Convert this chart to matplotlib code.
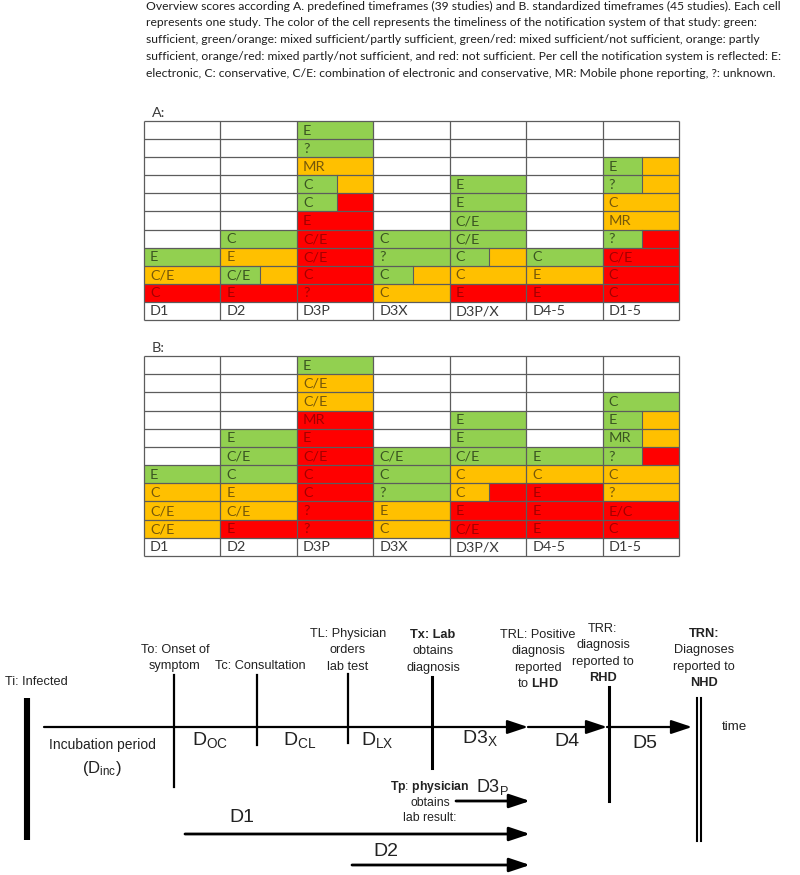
import matplotlib
matplotlib.use('Agg')
import matplotlib.pyplot as plt
from matplotlib.patches import Rectangle

# -----------------------------------------------------
# data
# -----------------------------------------------------

columns = ['D1', 'D2', 'D3P', 'D3X', 'D3P/X', 'D4-5', 'D1-5']

# cells per column, from the bottom row upwards
a_text = [
    ['C', 'C/E', 'E'],
    ['E', 'C/E', 'E', 'C'],
    ['?', 'C', 'C/E', 'C/E', 'E', 'C', 'C', 'MR', '?', 'E'],
    ['C', 'C', '?', 'C'],
    ['E', 'C', 'C', 'C/E', 'C/E', 'E', 'E'],
    ['E', 'E', 'C'],
    ['C', 'C', 'C/E', '?', 'MR', 'C', '?', 'E'],
]
a_score = [
    ['r', 'o', 'g'],
    ['r', 'go', 'o', 'g'],
    ['r', 'r', 'r', 'r', 'r', 'gr', 'go', 'o', 'g', 'g'],
    ['o', 'go', 'g', 'g'],
    ['r', 'o', 'go', 'g', 'g', 'g', 'g'],
    ['r', 'o', 'g'],
    ['r', 'r', 'r', 'gr', 'o', 'o', 'go', 'go'],
]

b_text = [
    ['C/E', 'C/E', 'C', 'E'],
    ['E', 'C/E', 'E', 'C', 'C/E', 'E'],
    ['?', '?', 'C', 'C', 'C/E', 'E', 'MR', 'C/E', 'C/E', 'E'],
    ['C', 'E', '?', 'C', 'C/E'],
    ['C/E', 'E', 'C', 'C', 'C/E', 'E', 'E'],
    ['E', 'E', 'E', 'C', 'E'],
    ['C', 'E/C', '?', 'C', '?', 'MR', 'E', 'C'],
]
b_score = [
    ['o', 'o', 'o', 'g'],
    ['r', 'o', 'o', 'g', 'g', 'g'],
    ['r', 'r', 'r', 'r', 'r', 'r', 'r', 'o', 'o', 'g'],
    ['o', 'o', 'g', 'g', 'g'],
    ['r', 'r', 'or', 'o', 'g', 'g', 'g'],
    ['r', 'r', 'r', 'o', 'g'],
    ['r', 'r', 'o', 'o', 'gr', 'go', 'go', 'g'],
]

caption = [
    'Overview scores according A. predefined timeframes (39 studies) and B. standardized timeframes (45 studies). Each cell',
    'represents one study. The color of the cell represents the timeliness of the notification system of that study: green:',
    'sufficient, green/orange: mixed sufficient/partly sufficient, green/red: mixed sufficient/not sufficient, orange: partly',
    'sufficient, orange/red: mixed partly/not sufficient, and red: not sufficient. Per cell the notification system is reflected: E:',
    'electronic, C: conservative, C/E: combination of electronic and conservative, MR: Mobile phone reporting, ?: unknown.',
]

# -----------------------------------------------------
# styles
# -----------------------------------------------------

fill = {'g': '#92d050', 'o': '#ffc000', 'r': '#ff0000'}
ink = {'g': '#3b5522', 'o': '#76580a', 'r': '#a30000'}
grid_col = '#5c5c5c'
split = 0.52

plt.rcParams['mathtext.fontset'] = 'custom'
plt.rcParams['mathtext.rm'] = 'Liberation Sans'
plt.rcParams['mathtext.it'] = 'Liberation Sans:italic'
plt.rcParams['mathtext.bf'] = 'Liberation Sans:bold'

fig = plt.figure(figsize=(8, 8.75), dpi=100)
ax = fig.add_axes([0, 0, 1, 1])
ax.set_xlim(0, 800)
ax.set_ylim(875, 0)
ax.axis('off')

# caption
for k, line in enumerate(caption):
    ax.text(146, 6 + k * 16.8, line, fontsize=8.75, family='Lato',
            color='#1e1e1e', va='center', ha='left')


def draw_table(tax, texts, scores, letter):
    tax.set_xlim(0, len(columns))
    tax.set_ylim(0, 11)
    tax.axis('off')
    for i, (txts, scs) in enumerate(zip(texts, scores)):
        for j, (t, s) in enumerate(zip(txts, scs)):
            y = j + 1
            if len(s) == 1:
                tax.add_patch(Rectangle((i, y), 1, 1, fc=fill[s], lw=0))
            else:
                tax.add_patch(Rectangle((i, y), split, 1, fc=fill[s[0]], lw=0))
                tax.add_patch(Rectangle((i + split, y), 1 - split, 1, fc=fill[s[1]], lw=0))
                tax.plot([i + split, i + split], [y, y + 1], color=grid_col, lw=0.8)
            tax.text(i + 0.08, y + 0.47, t, fontsize=10.4, family='Lato',
                     color=ink[s[0]], va='center', ha='left')
    for i, c in enumerate(columns):
        tax.text(i + 0.08, 0.47, c, fontsize=10.4, family='Lato',
                 color='#3a3a3a', va='center', ha='left')
    tax.hlines(range(12), 0, len(columns), color=grid_col, lw=0.9, clip_on=False)
    tax.vlines(range(len(columns) + 1), 0, 11, color=grid_col, lw=0.9, clip_on=False)
    tax.text(0.1, 11.45, letter, fontsize=10.4, family='Lato', color='#3a3a3a',
             va='center', ha='left', clip_on=False)


ax_a = fig.add_axes([144 / 800, 1 - 320 / 875, 535 / 800, 199 / 875])
draw_table(ax_a, a_text, a_score, 'A:')
ax_b = fig.add_axes([144 / 800, 1 - 556 / 875, 535 / 800, 200 / 875])
draw_table(ax_b, b_text, b_score, 'B:')

# -----------------------------------------------------
# timeline diagram
# -----------------------------------------------------

tl_y = 727
font = 'Liberation Sans'


def arrow(x0, x1, y, lw=1.6):
    ax.annotate('', xy=(x1, y), xytext=(x0, y),
                arrowprops=dict(arrowstyle='-|>,head_length=0.9,head_width=0.3',
                                lw=lw, color='black', shrinkA=0, shrinkB=0,
                                mutation_scale=14))


def label(x, y, lines, size=9.2, step=16.3):
    # lines: plain strings, or (string, weight) pairs
    for k, ln in enumerate(lines):
        txt, weight = ln if isinstance(ln, tuple) else (ln, 'normal')
        ax.text(x, y + k * step, txt, fontsize=size, family=font, fontweight=weight,
                color='#222222', ha='center', va='center')


# main time axis
arrow(44, 528, tl_y)
arrow(528, 607, tl_y)
arrow(607, 692, tl_y)

# event markers
ax.plot([27, 27], [698, 840], color='black', lw=4.4, solid_capstyle='butt')
ax.plot([174, 174], [675, 787], color='black', lw=1.6)
ax.plot([257, 257], [675, 745], color='black', lw=1.6)
ax.plot([348, 348], [674, 743], color='black', lw=1.6)
ax.plot([432, 432], [677, 768], color='black', lw=2.2)
ax.plot([609, 609], [687, 801], color='black', lw=2.2)
ax.plot([697, 697], [698, 841], color='black', lw=1.5)
ax.plot([701, 701], [698, 841], color='black', lw=1.5)

# lower duration arrows
arrow(456, 530, 801, lw=2.0)
arrow(185, 530, 834, lw=2.0)
arrow(352, 530, 865, lw=2.0)

# event labels
ax.text(5, 682, 'Ti: Infected', fontsize=9.2, family=font, color='#222222',
        ha='left', va='center')
label(175, 650, ['To: Onset of', 'symptom'])
label(260, 666, ['Tc: Consultation'])
label(348, 634, ['TL: Physician', 'orders', 'lab test'])
label(433, 635, [('Tx: Lab', 'bold'), 'obtains', 'diagnosis'])
label(538, 635, ['TRL: Positive', 'diagnosis', 'reported', r'to $\mathbf{LHD}$'])
label(603, 629, ['TRR:', 'diagnosis', 'reported to', ('RHD', 'bold')])
label(704, 634, [('TRN:', 'bold'), 'Diagnoses', 'reported to', ('NHD', 'bold')])
label(430, 787, [r'$\mathbf{Tp}$: $\mathbf{physician}$', 'obtains', 'lab result:'],
      size=8.8, step=15.5)
ax.text(722, 727, 'time', fontsize=9.6, family=font, color='#222222',
        ha='left', va='center')

# duration labels
label(102, 745, ['Incubation period'], size=10)
label(102, 768, [r'(D$_{\mathrm{inc}}$)'], size=12)
label(210, 740, [r'D$_{\mathrm{OC}}$'], size=14)
label(300, 740, [r'D$_{\mathrm{CL}}$'], size=14)
label(377, 740, [r'D$_{\mathrm{LX}}$'], size=14)
label(480, 738, [r'D3$_{\mathrm{X}}$'], size=14)
label(567, 742, ['D4'], size=14)
label(645, 743, ['D5'], size=14)
label(492, 787, [r'D3$_{\mathrm{P}}$'], size=13)
label(242, 818, ['D1'], size=14)
label(386, 852, ['D2'], size=14)

fig.savefig('out.png', dpi=100, facecolor='white')
